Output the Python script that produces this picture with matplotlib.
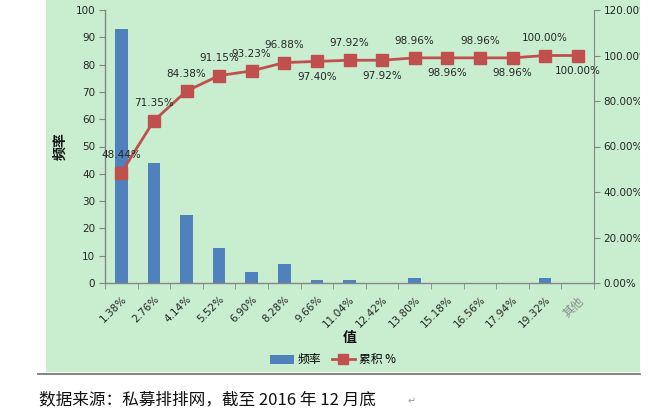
import matplotlib
matplotlib.use("Agg")
import matplotlib.pyplot as plt
from matplotlib.patches import Rectangle, Patch
from matplotlib.lines import Line2D
from matplotlib.ticker import FuncFormatter, MultipleLocator, FixedLocator

plt.rcParams['font.family'] = ['DejaVu Sans', 'Noto Sans CJK SC']

categories = ["1.38%", "2.76%", "4.14%", "5.52%", "6.90%", "8.28%", "9.66%", "11.04%",
              "12.42%", "13.80%", "15.18%", "16.56%", "17.94%", "19.32%", "其他"]
freq = [93, 44, 25, 13, 4, 7, 1, 1, 0, 2, 0, 0, 0, 2, 0]
cum_pct = [48.44, 71.35, 84.38, 91.15, 93.23, 96.88, 97.40, 97.92, 97.92,
           98.96, 98.96, 98.96, 98.96, 100.00, 100.00]
label_pos = ["above", "above", "above", "above", "above", "above", "below", "above",
             "below", "above", "below", "above", "below", "above", "below"]

W, H = 650, 417
fig = plt.figure(figsize=(W / 100, H / 100), dpi=100)
fig.patch.set_facecolor("white")

# green panel
fig.add_artist(Rectangle((46 / W, 1 - 372 / H), (640 - 46) / W, 372 / H,
                         transform=fig.transFigure, facecolor="#C8EDCF",
                         edgecolor="none", zorder=-5))
# separator line
fig.add_artist(Line2D([38 / W, 640 / W], [1 - 373.5 / H, 1 - 373.5 / H],
                      transform=fig.transFigure, color="#7a7a7a", lw=1.3, zorder=-4))

ax = fig.add_axes([105 / W, 1 - 283 / H, (594 - 105) / W, (283 - 10) / H])
ax.set_facecolor("none")
x = list(range(len(categories)))
ax.bar(x, freq, width=0.39, color="#4F81BD", zorder=2)
ax.set_xlim(-0.5, len(categories) - 0.5)
ax.set_ylim(0, 100)
ax.yaxis.set_major_locator(MultipleLocator(10))

axis_col = "#868686"
text_col = "#262626"
for s in ["top", "right"]:
    ax.spines[s].set_visible(False)
for s in ["left", "bottom"]:
    ax.spines[s].set_color(axis_col)
    ax.spines[s].set_linewidth(1.0)

ax.set_xticks(x)
ax.set_xticklabels(categories, rotation=45, ha="right", rotation_mode="anchor")
ax.xaxis.set_minor_locator(FixedLocator([i - 0.5 for i in range(len(categories) + 1)]))
ax.tick_params(axis="x", which="major", length=0, pad=8, labelsize=7.5, labelcolor=text_col)
ax.tick_params(axis="x", which="minor", length=4, color=axis_col)
ax.tick_params(axis="y", length=4, color=axis_col, labelsize=7.5, labelcolor=text_col, pad=3)
xl = ax.get_xticklabels()[-1]
xl.set_color("#8a8a8a")
xl.set_fontsize(8.5)

ax.set_ylabel("频率", fontsize=10, fontweight="bold", labelpad=6,
              family=["Noto Sans CJK SC"], color="#111111")
ax.set_xlabel("值", fontsize=10, fontweight="bold", labelpad=1,
              family=["Noto Sans CJK SC"], color="#111111")

ax2 = ax.twinx()
ax2.set_ylim(0, 120)
ax2.yaxis.set_major_locator(MultipleLocator(20))
ax2.yaxis.set_major_formatter(FuncFormatter(lambda v, p: f"{v:.2f}%"))
for s in ["top", "left", "bottom"]:
    ax2.spines[s].set_visible(False)
ax2.spines["right"].set_color(axis_col)
ax2.tick_params(axis="y", length=4, color=axis_col, labelsize=7.5, labelcolor=text_col, pad=3)
ax2.plot(x, cum_pct, color="#C0504D", lw=2.0, marker="s", markersize=8,
         markerfacecolor="#C0504D", markeredgecolor="#C0504D", zorder=3)
for xi, v, pos in zip(x, cum_pct, label_pos):
    dy = 12.5 if pos == "above" else -11
    ax2.annotate(f"{v:.2f}%", (xi, v), xytext=(0, dy), textcoords="offset points",
                 ha="center", va="center", fontsize=7.5, color=text_col)

handles = [Patch(facecolor="#4F81BD", edgecolor="none"),
           Line2D([0], [0], color="#C0504D", lw=2.0, marker="s", markersize=7)]
fig.legend(handles, ["频率", "累积 %"], loc="center", bbox_to_anchor=(333 / W, 1 - 360 / H),
           ncol=2, frameon=False, handlelength=2.0, handletextpad=0.3,
           columnspacing=0.9, prop={"family": ["Noto Sans CJK SC"], "size": 8.5})

# clip overflowing right labels at panel edge
fig.add_artist(Rectangle((640 / W, 1 - 372 / H), 10 / W, 372 / H,
                         transform=fig.transFigure, facecolor="white",
                         edgecolor="none", zorder=20))

fig.text(39 / W, 1 - 400 / H, "数据来源：私募排排网，截至 2016 年 12 月底",
         fontsize=12, va="center", ha="left", color="#111111",
         family=["Noto Sans CJK SC"])
fig.text(408 / W, 1 - 401 / H, "↵", fontsize=7, va="center", ha="left",
         color="#999999", family=["DejaVu Sans"])

fig.savefig("out.png", dpi=100)
